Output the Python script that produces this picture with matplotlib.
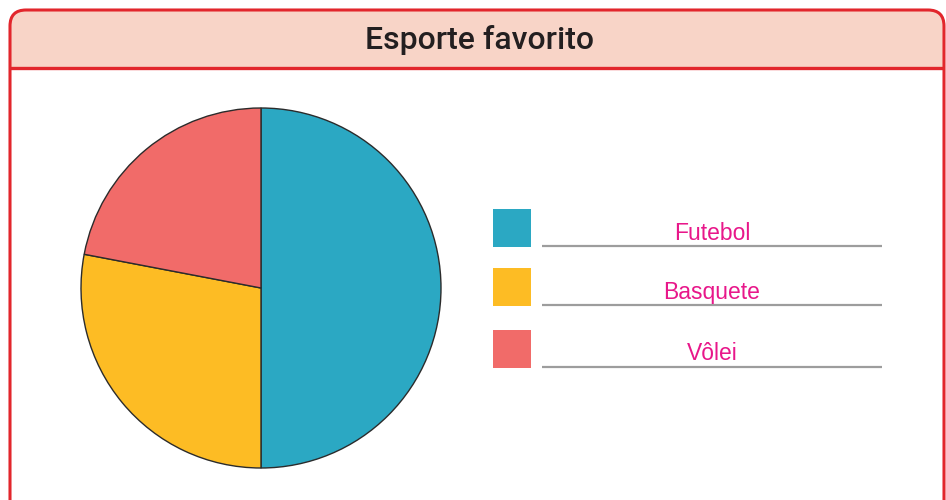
import matplotlib
matplotlib.use("Agg")
import matplotlib.pyplot as plt
from matplotlib.patches import FancyBboxPatch, Rectangle

plt.rcParams['font.family'] = ['Liberation Sans', 'DejaVu Sans']

# Data
title = "Esporte favorito"
sports = ["Futebol", "Basquete", "Vôlei"]
votes = [25, 14, 11]
colors = ["#2ba8c3", "#fdbc24", "#f16b69"]

W, H = 946, 500
fig = plt.figure(figsize=(W / 100, H / 100), dpi=100)
ax = fig.add_axes([0, 0, 1, 1])
ax.set_xlim(0, W)
ax.set_ylim(0, H)
ax.set_aspect('equal')
ax.axis('off')

def py(y):
    """Convert a top-down pixel row into data y."""
    return H - y

red = "#e2262c"

# Card frame with rounded corners (bottom runs off the canvas)
frame = FancyBboxPatch((10, py(560)), 934, 550,
                       boxstyle="round,pad=0,rounding_size=16",
                       facecolor="white", edgecolor="none", zorder=0)
ax.add_patch(frame)
header = Rectangle((0, py(68)), W, 70, facecolor="#f8d4c7",
                   edgecolor="none", zorder=1)
ax.add_patch(header)
header.set_clip_path(frame)
outline = FancyBboxPatch((10, py(560)), 934, 550,
                         boxstyle="round,pad=0,rounding_size=16",
                         facecolor="none", edgecolor=red, linewidth=2.2,
                         zorder=3)
ax.add_patch(outline)
ax.plot([10, 944], [py(68), py(68)], color=red, linewidth=2.4, zorder=3,
        solid_capstyle='butt')

ax.text(479, py(40), title, ha='center', va='center', fontsize=23,
        family=['Roboto', 'DejaVu Sans'], fontweight='medium',
        color="#231f20", zorder=4)

# Pie chart
ax.pie(votes, colors=colors, startangle=90, counterclock=False,
       center=(261, py(288)), radius=180, frame=True,
       wedgeprops=dict(edgecolor="#2b2b2b", linewidth=1.0))
ax.set_xlim(0, W)
ax.set_ylim(0, H)
ax.axis('off')

# Legend: colour squares with labels written on lines
row_tops = [209, 268, 330]
for top, name, col in zip(row_tops, sports, colors):
    ax.add_patch(Rectangle((493, py(top + 38)), 38, 38, facecolor=col,
                           edgecolor='none', zorder=4))
    line_y = top + 37
    ax.plot([542, 882], [py(line_y), py(line_y)], color="#9d9d9d",
            linewidth=1.6, zorder=4, solid_capstyle='butt')
    ax.text(712, py(line_y - 6.5), name, ha='center', va='baseline',
            fontsize=16.5, color="#e8178a", zorder=4)

fig.savefig("out.png", dpi=100)
